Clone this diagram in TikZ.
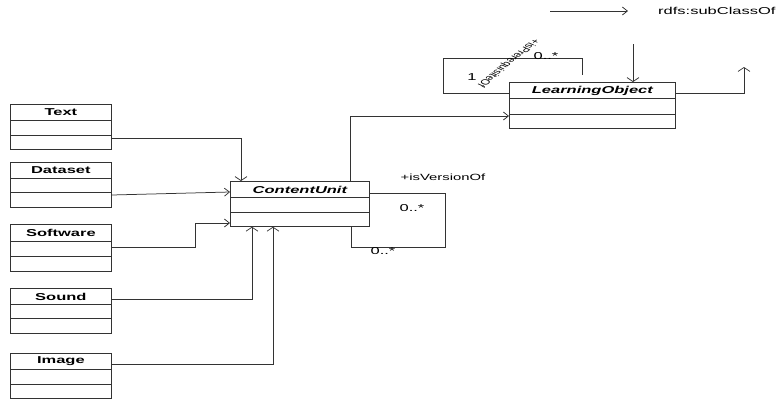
\documentclass[tikz,border=0pt]{standalone}
\usepackage{fontspec}
\setmainfont{Liberation Sans}
\usepackage{graphicx}
\usetikzlibrary{arrows.meta,calc}
\newcommand{\hs}[1]{\scalebox{1.65}[1]{#1}}
\newcommand{\clsdivs}[3]{%
  \draw[line] ($(#1.north west)+(0,#2)$) -- ($(#1.north east)+(0,#2)$);
  \draw[line] ($(#1.north west)+(0,#3)$) -- ($(#1.north east)+(0,#3)$);}
\begin{document}
\begin{tikzpicture}[x=1pt,y=-1pt,
  line/.style={draw=black!80, line width=0.75pt},
  harr/.style={line, -{Straight Barb[length=5pt,width=8pt]}},
  varr/.style={line, -{Straight Barb[length=4pt,width=12pt]}},
  cls/.style={line, fill=white, minimum width=101pt, minimum height=45pt, anchor=north west, inner sep=0pt},
  ttl/.style={font=\fontsize{10}{12}\selectfont\bfseries, inner sep=0pt},
  ttli/.style={font=\fontsize{10}{12}\selectfont\bfseries\itshape, inner sep=0pt},
  lbl/.style={font=\fontsize{10}{12}\selectfont, inner sep=0pt},
  slbl/.style={font=\fontsize{9}{11}\selectfont, inner sep=0pt}]
\useasboundingbox (0,0) rectangle (780,400);

% classes
\node[cls] (text) at (10,104) {};
\clsdivs{text}{16}{31}
\node[ttl] at ($(text.north)+(0,8.5)$) {\hs{Text}};

\node[cls] (dataset) at (10,162) {};
\clsdivs{dataset}{16}{30}
\node[ttl] at ($(dataset.north)+(0,8.5)$) {\hs{Dataset}};

\node[cls, minimum height=47pt] (software) at (10,224) {};
\clsdivs{software}{17}{32}
\node[ttl] at ($(software.north)+(0,9)$) {\hs{Software}};

\node[cls] (sound) at (10,288) {};
\clsdivs{sound}{16}{30}
\node[ttl] at ($(sound.north)+(0,8.5)$) {\hs{Sound}};

\node[cls] (image) at (10,353) {};
\clsdivs{image}{16}{31}
\node[ttl] at ($(image.north)+(0,8.5)$) {\hs{Image}};

\node[cls, minimum width=139pt] (cu) at (230,181) {};
\clsdivs{cu}{16}{31}
\node[ttli] at ($(cu.north)+(0,8.5)$) {\hs{ContentUnit}};

\node[cls, minimum width=166pt, minimum height=46pt] (lo) at (509,82) {};
\clsdivs{lo}{16}{32}
\node[ttli] at ($(lo.north)+(0,8.5)$) {\hs{LearningObject}};

% connectors to ContentUnit
\draw[varr] (text.east |- 0,138) -| (cu.north -| 241,0);
\draw[harr] (dataset.east |- 0,195) -- (cu.west |- 0,192);
\draw[harr] (software.east |- 0,247) -| (195,223) -- (cu.west |- 0,223);
\draw[varr] (sound.east |- 0,299) -| (cu.south -| 252,0);
\draw[varr] (image.east |- 0,364) -| (cu.south -| 273,0);

% ContentUnit -> LearningObject
\draw[harr] (cu.north -| 350,0) |- (lo.west |- 0,116);

% isVersionOf self loop
\draw[line] (cu.east |- 0,193) -| (445,247) -| (cu.south -| 351,0);
\node[slbl] at (443,177) {\hs{+isVersionOf}};
\node[lbl] at (412,208) {\hs{0..*}};
\node[lbl] at (383,251) {\hs{0..*}};

% isPrerequisiteOf self loop
\coordinate (loopend) at (582,75);
\draw[line] (lo.west |- 0,93) -| (443,58) -| (loopend);
\node[lbl] at (472,77) {\hs{1}};
\node[lbl, anchor=base] at (546,59) {\hs{0..*}};
\node[inner sep=0pt] at (508,63) {\scalebox{1.65}[1]{\rotatebox{233.5}{\fontsize{7.5}{8}\selectfont +isPrerequisiteOf}}};

% rdfs:subClassOf legend and arrows
\node[lbl, anchor=west] (rdfs) at (658,11) {\hs{rdfs:subClassOf}};
\coordinate (tas) at (550,11);
\draw[harr] (tas) -- ([xshift=-30pt]rdfs.west);
\coordinate (vs) at (633,44);
\draw[varr] (vs) -- (lo.north -| vs);
\coordinate (ue) at (744,67);
\draw[varr] (lo.east |- 0,93) -| (ue);
\end{tikzpicture}
\end{document}
